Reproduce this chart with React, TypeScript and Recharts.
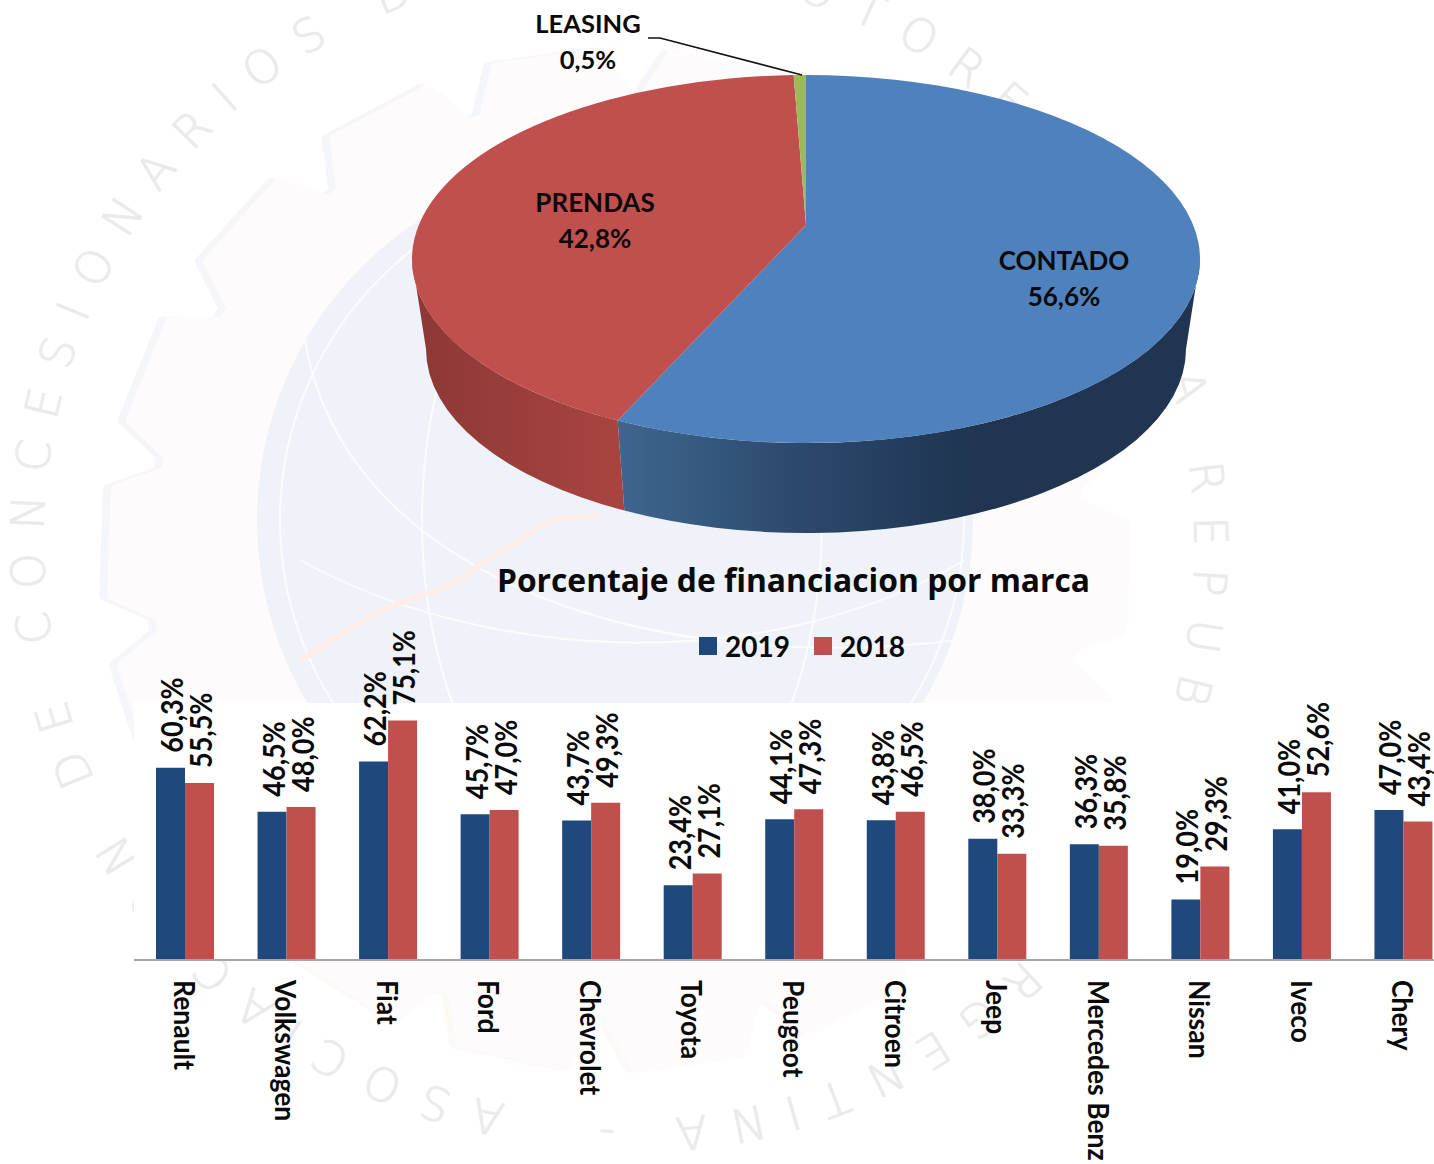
import React from "react";
import { PieChart, Pie, BarChart, Bar, XAxis, YAxis, Legend, LabelList } from "recharts";

const pieNames = ["CONTADO", "PRENDAS", "LEASING"];
const pieValues = [56.6, 42.8, 0.5];
const pieColors = ["#4f81bd", "#c0504d", "#9bbb59"];

const brands = ["Renault", "Volkswagen", "Fiat", "Ford", "Chevrolet", "Toyota", "Peugeot", "Citroen", "Jeep", "Mercedes Benz", "Nissan", "Iveco", "Chery"];
const values2019 = [60.3, 46.5, 62.2, 45.7, 43.7, 23.4, 44.1, 43.8, 38.0, 36.3, 19.0, 41.0, 47.0];
const values2018 = [55.5, 48.0, 75.1, 47.0, 49.3, 27.1, 47.3, 46.5, 33.3, 35.8, 29.3, 52.6, 43.4];

const FONT = "Lato, 'Open Sans', sans-serif";
const pieData = pieNames.map((name, i) => ({ name, value: pieValues[i], color: pieColors[i] }));
const barData = brands.map((brand, i) => ({ brand, y2019: values2019[i], y2018: values2018[i] }));
const pct = (v: number) => v.toFixed(1).replace(".", ",") + "%";

const rad = (d: number) => (d * Math.PI) / 180;
const warp = (t: number) => t + 4.8 * Math.sin(rad(t / 2)) ** 2;
const APEX_Y = 225;
const RATIO = 0.467;
const DEPTH = 90;
const BOTTOM_RX_SHRINK = 14;

const wallStops: Record<string, [number, string][]> = {
  CONTADO: [[0, "#3f668f"], [0.3, "#2c4a6d"], [0.6, "#1f3552"], [1, "#1f3552"]],
  PRENDAS: [[0, "#a8443f"], [1, "#8c3836"]],
};

function Slice3D(props: any) {
  const { cx, cy, outerRadius, startAngle, endAngle, name, fill } = props;
  const rx = outerRadius;
  const ry = rx * RATIO;
  const rxB = rx - BOTTOM_RX_SHRINK;
  const top = (t: number) => [cx + rx * Math.sin(rad(t)), cy - ry * Math.cos(rad(t))];
  const bot = (t: number) => [cx + rxB * Math.sin(rad(t)), cy + DEPTH - ry * Math.cos(rad(t))];
  const t0 = warp(90 - startAngle);
  const t1 = warp(90 - endAngle);
  const a = top(t0);
  const b = top(t1);
  const large = t1 - t0 > 180 ? 1 : 0;
  const w0 = Math.max(t0, 90);
  const w1 = Math.min(t1, 270);
  const stops = wallStops[name];
  const id = "wall-" + name;
  return (
    <g>
      {w0 < w1 && stops ? (
        <>
          <defs>
            <linearGradient id={id} gradientUnits="userSpaceOnUse" x1={top(w1)[0]} x2={top(w0)[0]} y1="0" y2="0">
              {(name === "CONTADO" ? stops : [...stops].reverse().map(([o, c]) => [1 - o, c] as [number, string])).map(([o, c]) => (
                <stop key={o} offset={o} stopColor={c} />
              ))}
            </linearGradient>
          </defs>
          <path
            fill={`url(#${id})`}
            d={`M${top(w0)} A${rx} ${ry} 0 0 1 ${top(w1)} L${bot(w1)} A${rxB} ${ry} 0 0 0 ${bot(w0)} Z`}
          />
        </>
      ) : null}
      <path fill={fill} d={`M${cx} ${APEX_Y} L${a} A${rx} ${ry} 0 ${large} 1 ${b} Z`} />
    </g>
  );
}

const labelSpots: Record<string, { x: number; y: number; size: number }> = {
  CONTADO: { x: 1064, y: 260, size: 26 },
  PRENDAS: { x: 595, y: 202, size: 26 },
  LEASING: { x: 588, y: 22.5, size: 25.5 },
};

function PieLabel(props: any) {
  const { name, value } = props;
  const s = labelSpots[name];
  return (
    <g style={{ fontFamily: FONT, fontWeight: 700 }} fill="#0a0a0a" fontSize={s.size} textAnchor="middle">
      <text x={s.x} y={s.y} dominantBaseline="central">{name}</text>
      <text x={s.x} y={s.y + 36} dominantBaseline="central">{pct(value)}</text>
      {name === "LEASING" ? <polyline points="648,38 660,38 802,75" fill="none" stroke="#111" strokeWidth={1.6} /> : null}
    </g>
  );
}

function ValueLabel(props: any) {
  const { x, y, width, value } = props;
  const px = x + width / 2 + 1;
  const py = y - 15;
  return (
    <text
      transform={`translate(${px},${py}) rotate(-90) scale(1,1.1)`}
      dominantBaseline="central"
      textAnchor="start"
      fontSize={27}
      fontWeight={700}
      fontFamily={FONT}
      fill="#0a0a0a"
    >
      {pct(value)}
    </text>
  );
}

function BrandTick(props: any) {
  const { x, y, payload } = props;
  return (
    <text
      transform={`translate(${x},${y + 12}) rotate(90) scale(1,1.1)`}
      dominantBaseline="central"
      textAnchor="start"
      fontSize={26.5}
      fontWeight={700}
      fontFamily={FONT}
      fill="#0a0a0a"
    >
      {payload.value}
    </text>
  );
}

function BarLegend(props: any) {
  const items = props.payload || [];
  return (
    <div style={{ display: "flex", alignItems: "center", fontFamily: FONT, fontWeight: 700, fontSize: 28, color: "#0a0a0a", lineHeight: "26px" }}>
      {items.map((it: any) => (
        <span key={it.value} style={{ display: "inline-flex", alignItems: "center", marginRight: 24 }}>
          <span style={{ width: 18, height: 18, background: it.color, display: "inline-block", marginRight: 8 }} />
          {it.value}
        </span>
      ))}
    </div>
  );
}

const GCX = 619;
const GCY = 560;
function gearPath(r0: number, r1: number, dx: number, dy: number) {
  const n = 18;
  const pts: string[] = [];
  for (let i = 0; i < n; i++) {
    const c = i * 20 + 2;
    const seq: [number, number][] = [[c - 9, r0], [c - 6, r1], [c + 6, r1], [c + 9, r0]];
    for (const [a, r] of seq) {
      pts.push(`${(GCX + dx - r * Math.cos(rad(a))).toFixed(1)},${(GCY + dy - r * Math.sin(rad(a))).toFixed(1)}`);
    }
  }
  return pts.join(" ");
}

const WM = "ASOCIACION DE CONCESIONARIOS DE AUTOMOTORES DE LA REPUBLICA ARGENTINA - ";

function Watermark() {
  return (
    <svg width={1434} height={1164} style={{ position: "absolute", left: 0, top: 0 }}>
      <defs>
        <linearGradient id="gear-edge" gradientUnits="userSpaceOnUse" x1="0" x2="0" y1="0" y2="1164">
          <stop offset={0} stopColor="#f4f6fa" />
          <stop offset={0.6} stopColor="#f4f6fa" />
          <stop offset={0.82} stopColor="#fdf9f7" />
          <stop offset={1} stopColor="#fdf9f7" />
        </linearGradient>
        <path id="wm-circle" d="M506 1104 A560 572 0 1 1 732 -16 A560 572 0 1 1 506 1104" />
      </defs>
      <rect width={1434} height={1164} fill="#ffffff" />
      <polygon points={gearPath(462, 508, -8, 0)} fill="url(#gear-edge)" stroke="url(#gear-edge)" strokeWidth={10} strokeLinejoin="round" />
      <polygon points={gearPath(462, 508, 0, 0)} fill="#fdfbfb" stroke="#fdfbfb" strokeWidth={10} strokeLinejoin="round" />
      <circle cx={615} cy={520} r={358} fill="#eff2f8" />
      <g fill="none" stroke="#fbfcfe" strokeWidth={2}>
        <circle cx={622} cy={520} r={342} />
        <ellipse cx={622} cy={520} rx={200} ry={345} />
        <path d="M305 340 C340 560 620 680 960 640" />
        <path d="M300 560 C480 660 760 680 965 560" />
      </g>
      <polyline points="300,660 380,610 450,585 550,520 600,515" fill="none" stroke="#fdeee9" strokeWidth={6} />
      <text fontFamily="'DejaVu Sans', sans-serif" fontWeight={200} fontSize={46} fill="#e9e9e9" stroke="#ececec" strokeWidth={1}>
        <textPath href="#wm-circle" textLength={3525} lengthAdjust="spacing">{WM}</textPath>
      </text>
      <rect x={134} y={703} width={1300} height={257} fill="#ffffff" />
    </svg>
  );
}

export default function App() {
  return (
    <div style={{ position: "absolute", left: 0, top: 0, width: 1434, height: 1164, overflow: "hidden", background: "#fff" }}>
      <Watermark />
      <div style={{ position: "absolute", left: 0, top: 0 }}>
        <PieChart width={1434} height={560} margin={{ top: 0, right: 0, bottom: 0, left: 0 }}>
          <Pie
            data={pieData.map((d) => ({ ...d, fill: d.color }))}
            dataKey="value"
            nameKey="name"
            cx={806}
            cy={259}
            innerRadius={0}
            outerRadius={394}
            startAngle={90}
            endAngle={-270}
            isAnimationActive={false}
            shape={Slice3D}
            label={PieLabel}
            labelLine={false}
            stroke="none"
          />
        </PieChart>
      </div>
      <div style={{ position: "absolute", left: 398, top: 558, width: 791, textAlign: "center", whiteSpace: "nowrap", fontFamily: "'Open Sans', sans-serif", fontWeight: 700, fontSize: 31.8, lineHeight: "44px", color: "#0a0a0a" }}>
        Porcentaje de financiacion por marca
      </div>
      <div style={{ position: "absolute", left: 0, top: 600 }}>
        <BarChart width={1454} height={564} data={barData} margin={{ top: 42, right: 0, bottom: 0, left: 134 }} barGap={0} barSize={29}>
          <XAxis dataKey="brand" interval={0} height={204} tick={BrandTick} tickLine={false} axisLine={{ stroke: "#a6a6a6", strokeWidth: 2 }} />
          <YAxis hide domain={[0, 99.7]} allowDataOverflow />
          <Legend layout="horizontal" verticalAlign="middle" align="center" itemSorter={null} content={BarLegend} wrapperStyle={{ left: 699, top: 33, width: 320, bottom: "auto", right: "auto" }} />
          <Bar dataKey="y2019" name="2019" fill="#1f497d" isAnimationActive={false}>
            <LabelList dataKey="y2019" content={ValueLabel} />
          </Bar>
          <Bar dataKey="y2018" name="2018" fill="#c0504d" isAnimationActive={false}>
            <LabelList dataKey="y2018" content={ValueLabel} />
          </Bar>
        </BarChart>
      </div>
    </div>
  );
}
